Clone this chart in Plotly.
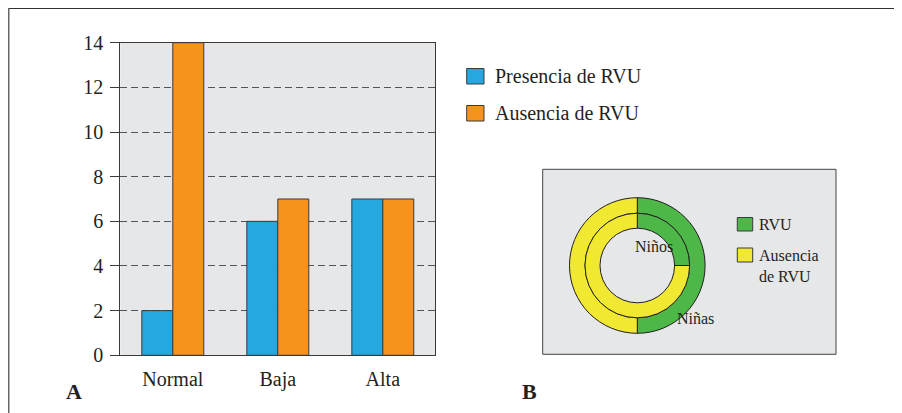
import plotly.graph_objects as go

# ---- data ----
categories = ["Normal", "Baja", "Alta"]
presencia = [2, 6, 7]
ausencia = [14, 7, 7]
series_names = ["Presencia de RVU", "Ausencia de RVU"]
y_ticks = [0, 2, 4, 6, 8, 10, 12, 14]

donut_labels = ["RVU", "Ausencia de RVU"]
donut_legend_text = ["RVU", "Ausencia<br>de RVU"]
ninas = [50, 50]   # outer ring
ninos = [25, 75]   # inner ring
ring_names = ["Niñas", "Niños"]
panel_labels = ["A", "B"]

# ---- styles ----
OFF = 8                      # page (body) margin of the html page
W, H = 902 - OFF, 413 - OFF  # figure fills the rest of the window
BLUE, ORANGE = "#25a8df", "#f6921e"
GREEN, YELLOW = "#4db848", "#f1e832"
BG = "#e6e7e8"
DARK = "#231f20"
LINE = "#3a3a3a"
SERIF = "Liberation Serif, Times New Roman, serif"


def px(x):
    return (x - OFF) / W


def py(y):
    return 1 - (y - OFF) / H


fig = go.Figure()
fig.add_trace(go.Bar(x=categories, y=presencia, name=series_names[0],
                     marker=dict(color=BLUE, line=dict(color=LINE, width=1))))
fig.add_trace(go.Bar(x=categories, y=ausencia, name=series_names[1],
                     marker=dict(color=ORANGE, line=dict(color=LINE, width=1))))

cx, cy = 637.3, 265.5
r_out, r_mid, r_in = 67.8, 52.3, 37.3
fig.add_trace(go.Pie(values=ninas, labels=donut_labels, sort=False, direction="clockwise",
                     rotation=0, hole=r_mid / r_out, textinfo="none", hoverinfo="label+value",
                     marker=dict(colors=[GREEN, YELLOW], line=dict(color=DARK, width=1)),
                     domain=dict(x=[px(cx - r_out), px(cx + r_out)], y=[py(cy + r_out), py(cy - r_out)]),
                     showlegend=False))
fig.add_trace(go.Pie(values=ninos, labels=donut_labels, sort=False, direction="clockwise",
                     rotation=0, hole=r_in / r_mid, textinfo="none", hoverinfo="label+value",
                     marker=dict(colors=[GREEN, YELLOW], line=dict(color=DARK, width=1)),
                     domain=dict(x=[px(cx - r_mid), px(cx + r_mid)], y=[py(cy + r_mid), py(cy - r_mid)]),
                     showlegend=False))

shapes = [
    # outer frame (page edge)
    dict(type="line", xref="paper", yref="paper", x0=0, x1=1, y0=1, y1=1,
         line=dict(color="#333333", width=2)),
    dict(type="line", xref="paper", yref="paper", x0=0, x1=0, y0=1, y1=0,
         line=dict(color="#666666", width=3)),
    # donut panel
    dict(type="rect", xref="paper", yref="paper", layer="below",
         x0=px(542.7), x1=px(836), y0=py(354.3), y1=py(169.3),
         fillcolor=BG, line=dict(color="#444444", width=1)),
    # bar legend squares
    dict(type="rect", xref="paper", yref="paper", x0=px(466.7), x1=px(484), y0=py(84), y1=py(68.5),
         fillcolor=BLUE, line=dict(color=LINE, width=1)),
    dict(type="rect", xref="paper", yref="paper", x0=px(466.7), x1=px(484), y0=py(121), y1=py(105.5),
         fillcolor=ORANGE, line=dict(color=LINE, width=1)),
    # donut legend squares
    dict(type="rect", xref="paper", yref="paper", x0=px(737.3), x1=px(752.7), y0=py(231), y1=py(217.5),
         fillcolor=GREEN, line=dict(color=LINE, width=1)),
    dict(type="rect", xref="paper", yref="paper", x0=px(737.3), x1=px(752.7), y0=py(262), y1=py(248),
         fillcolor=YELLOW, line=dict(color=LINE, width=1)),
]

annotations = [
    dict(text=series_names[0], x=px(492.7), y=py(76), xanchor="left", yanchor="middle"),
    dict(text=series_names[1], x=px(492.7), y=py(113), xanchor="left", yanchor="middle"),
    dict(text=donut_legend_text[0], x=px(756.7), y=py(224), xanchor="left", yanchor="middle",
         font=dict(size=16)),
    dict(text=donut_legend_text[1], x=px(756.7), y=py(266), xanchor="left", yanchor="middle",
         align="left", font=dict(size=16)),
    dict(text=ring_names[1], x=px(653.5), y=py(246), xanchor="center", yanchor="middle",
         font=dict(size=16)),
    dict(text=ring_names[0], x=px(695), y=py(318), xanchor="center", yanchor="middle",
         font=dict(size=16)),
    dict(text="<b>" + panel_labels[0] + "</b>", x=px(74), y=py(391), xanchor="center", yanchor="middle",
         font=dict(size=22)),
    dict(text="<b>" + panel_labels[1] + "</b>", x=px(529), y=py(391), xanchor="center", yanchor="middle",
         font=dict(size=22)),
]
for a in annotations:
    a.update(xref="paper", yref="paper", showarrow=False)
    a.setdefault("font", {})
    a["font"] = dict(family=SERIF, color=DARK, size=a["font"].get("size", 20))

fig.update_layout(
    width=W, height=H,
    margin=dict(l=0, r=0, t=0, b=0, autoexpand=False),
    paper_bgcolor="white", plot_bgcolor=BG,
    barmode="group", bargap=0.41, bargroupgap=0,
    showlegend=False,
    font=dict(family=SERIF, color=DARK, size=20),
    shapes=shapes, annotations=annotations,
    xaxis=dict(domain=[px(120.3), px(435.3)], showline=True, mirror=True, linecolor=LINE, linewidth=1.3,
               showgrid=False, ticks="", ticklabelstandoff=6, automargin=False,
               tickfont=dict(family=SERIF, size=20, color=DARK)),
    yaxis=dict(domain=[py(355.3), py(42.7)], range=[0, 14], tickvals=y_ticks,
               showline=True, mirror=True, linecolor=LINE, linewidth=1.3,
               ticks="outside", ticklen=9, tickcolor=LINE, tickwidth=1.3,
               showgrid=True, gridcolor="#555555", gridwidth=1, griddash="7px,4px",
               zeroline=False, ticklabelstandoff=3, automargin=False,
               tickfont=dict(family=SERIF, size=20, color=DARK)),
)

fig.write_html("out.html")
